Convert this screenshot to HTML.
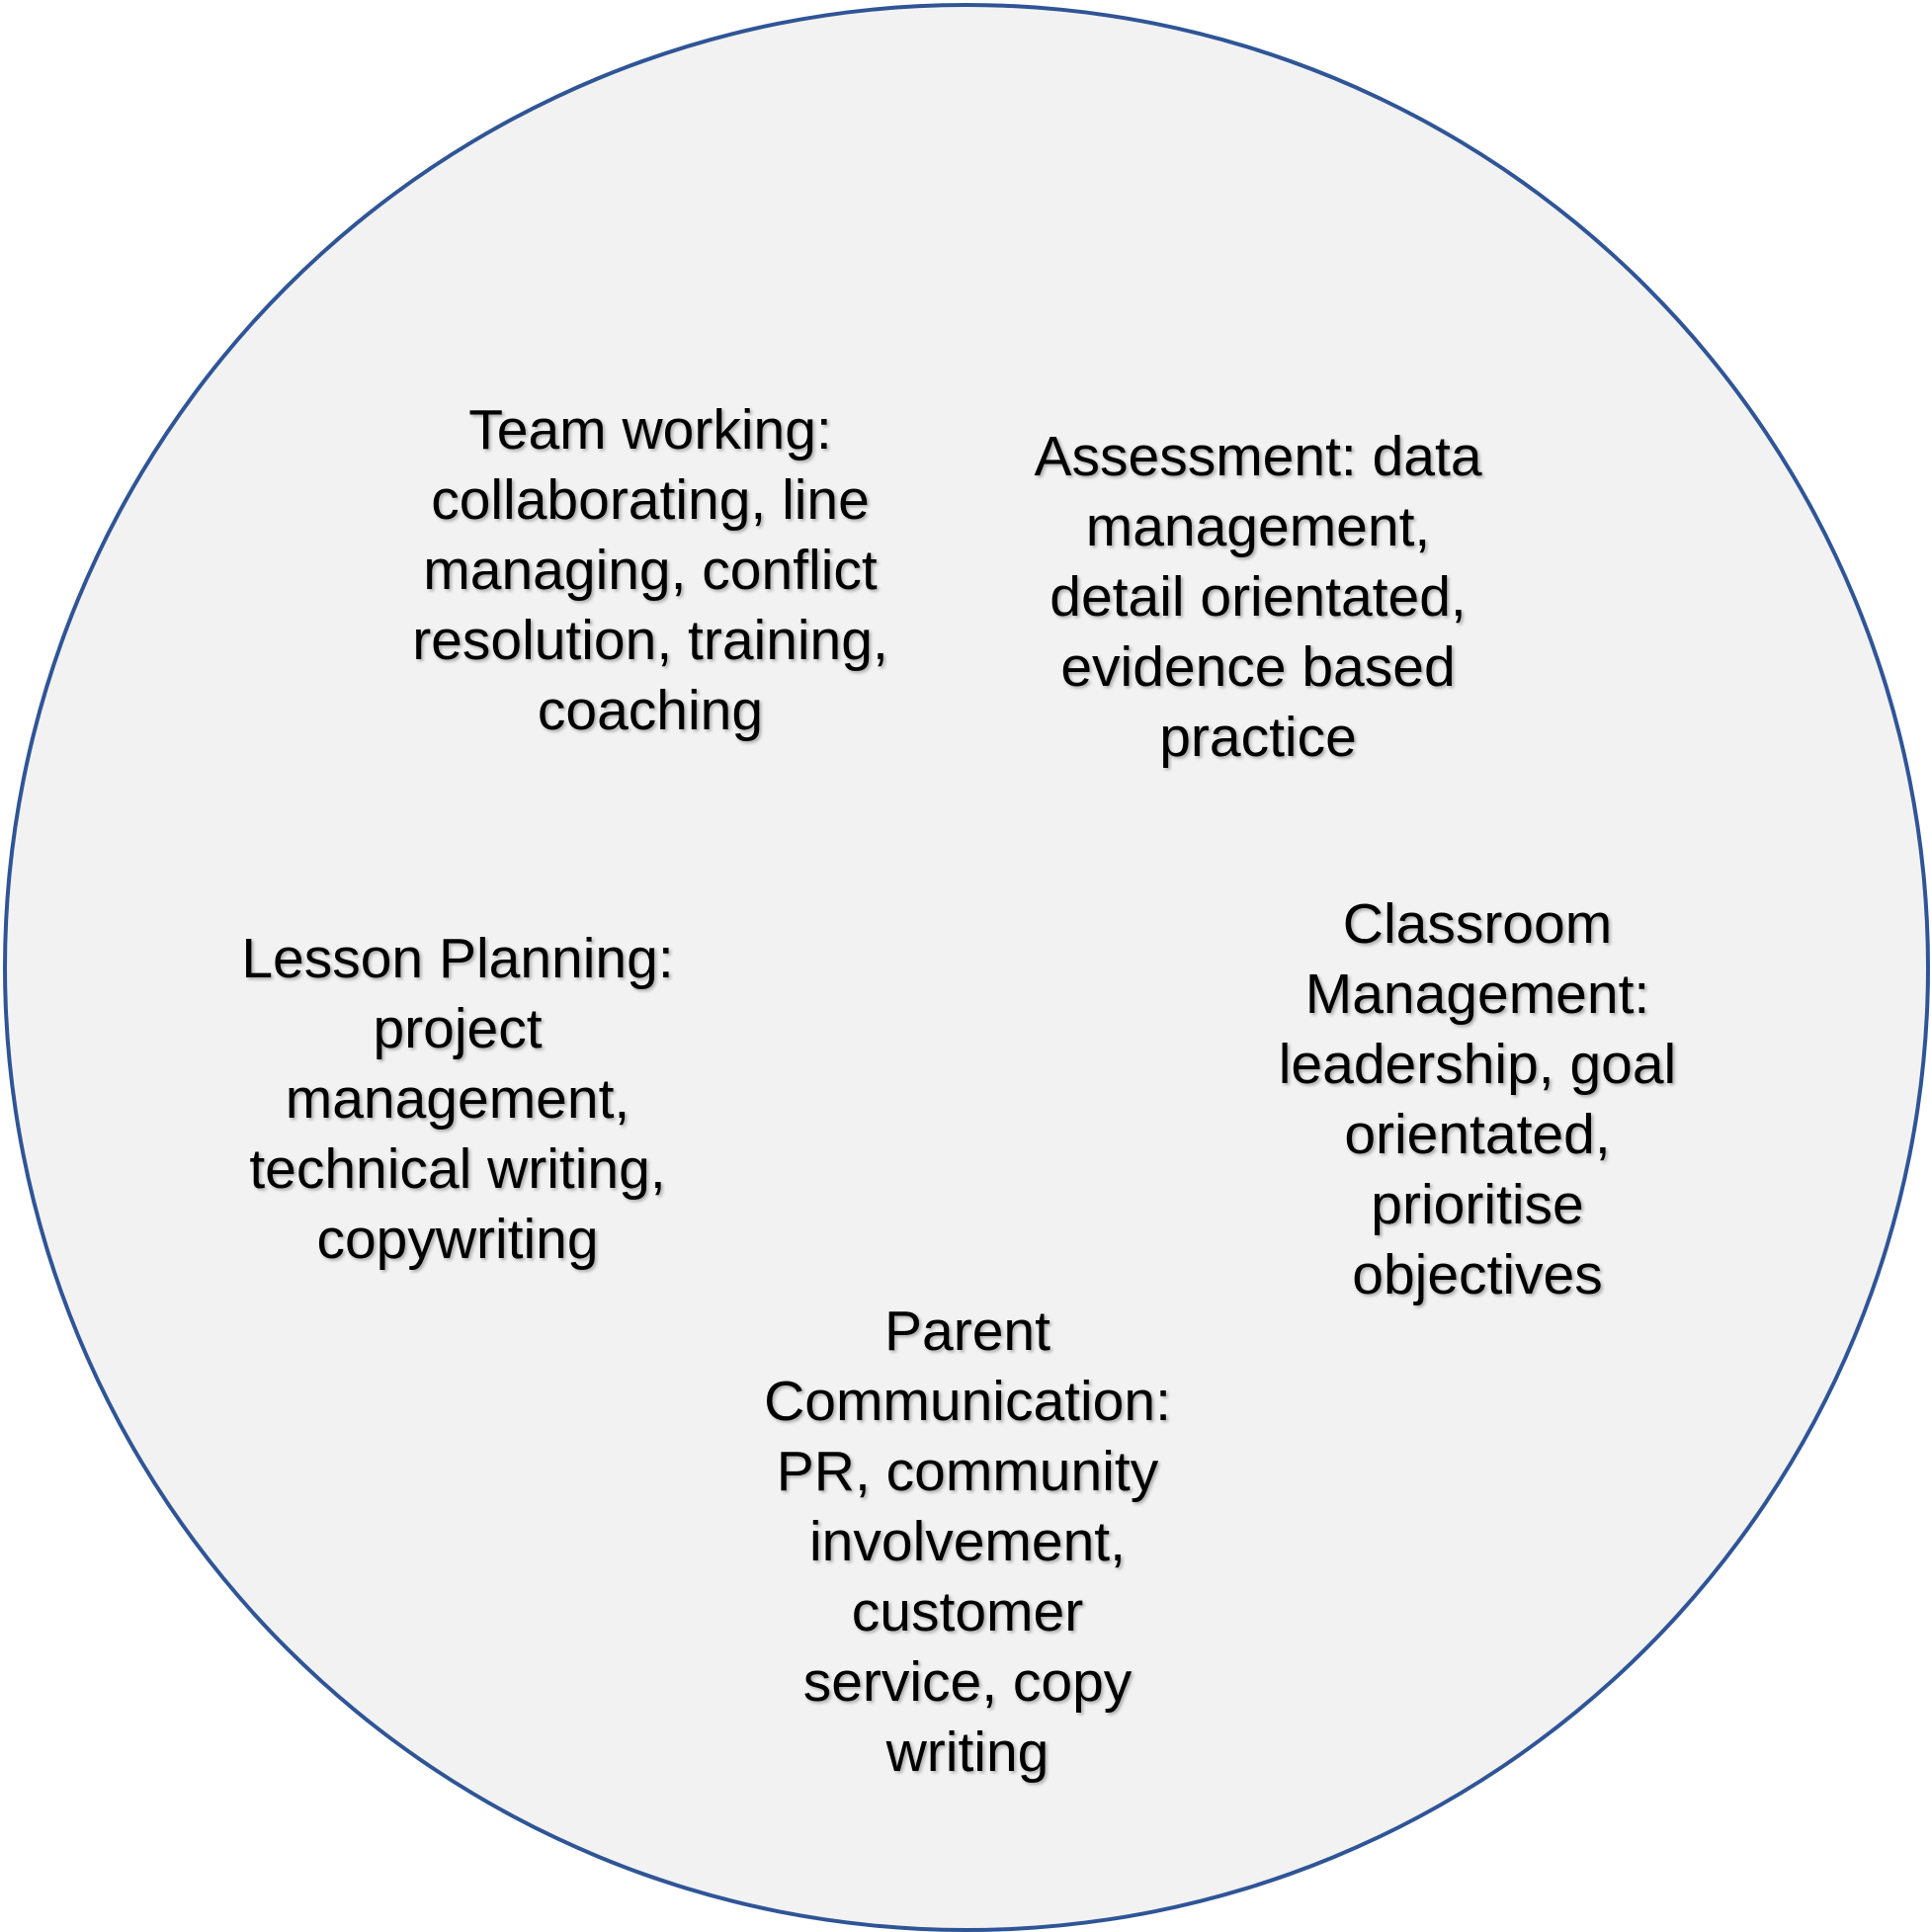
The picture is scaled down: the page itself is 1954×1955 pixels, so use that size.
<!DOCTYPE html>
<html><head><meta charset="utf-8"><style>
html,body{margin:0;padding:0;background:#fff;}
body{width:1954px;height:1955px;position:relative;overflow:hidden;}
.c{position:absolute;left:3px;top:3px;width:1942px;height:1944px;border-radius:50%;background:#f2f2f2;border:4px solid #2f5597;}
.t{position:absolute;font-family:"Liberation Sans",sans-serif;font-size:57px;line-height:71px;text-align:center;color:#000;width:700px;text-shadow:2px 2px 3px rgba(0,0,0,0.3);}
</style></head><body>
<div class="c"></div>
<div class="t" style="left:308px;top:400px;">Team working:<br>collaborating, line<br>managing, conflict<br>resolution, training,<br>coaching</div>
<div class="t" style="left:923px;top:427px;">Assessment: data<br>management,<br>detail orientated,<br>evidence based<br>practice</div>
<div class="t" style="left:113px;top:935px;">Lesson Planning:<br>project<br>management,<br>technical writing,<br>copywriting</div>
<div class="t" style="left:1145px;top:900px;">Classroom<br>Management:<br>leadership, goal<br>orientated,<br>prioritise<br>objectives</div>
<div class="t" style="left:629px;top:1312px;">Parent<br>Communication:<br>PR, community<br>involvement,<br>customer<br>service, copy<br>writing</div>
</body></html>
